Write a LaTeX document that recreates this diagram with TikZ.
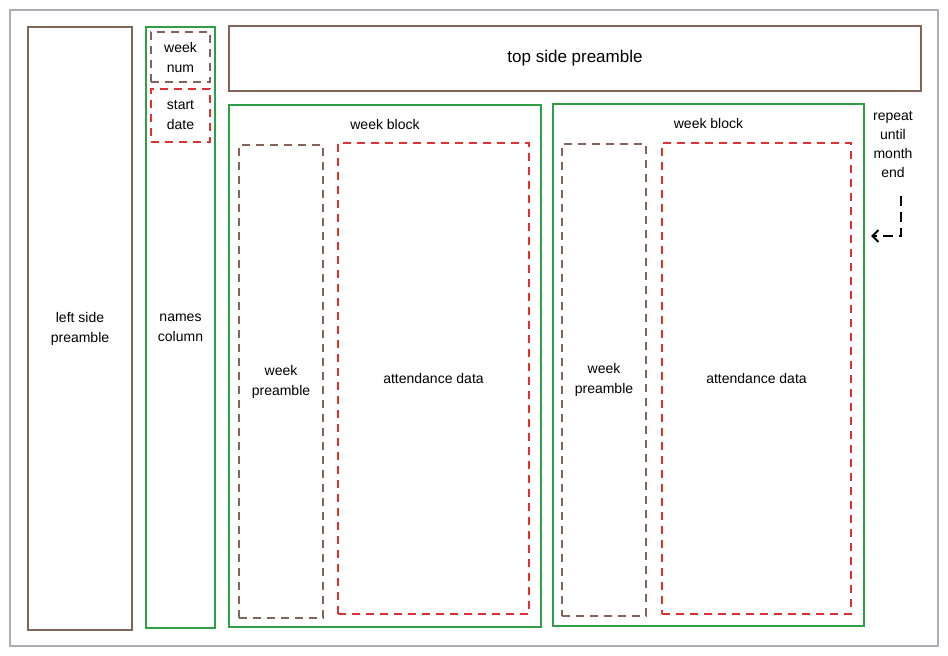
\documentclass[tikz,border=0pt]{standalone}
\usepackage{fontspec}
\setmainfont{Liberation Sans}
\usetikzlibrary{arrows.meta,positioning}

\definecolor{sketchbrown}{HTML}{846358}
\definecolor{sketchgreen}{HTML}{2F9E44}
\definecolor{sketchred}{HTML}{E03131}
\definecolor{framegray}{HTML}{A9AEB5}

\tikzset{solidbox/.style={draw,line width=2.4pt,inner sep=0pt,align=center,font=\fontsize{14}{20}\selectfont},
         dashbox/.style={solidbox,dash pattern=on 8pt off 6pt},
         brownbox/.style={solidbox,sketchbrown},
         greenbox/.style={solidbox,sketchgreen},
         browndash/.style={dashbox,sketchbrown},
         reddash/.style={dashbox,sketchred},
         lbl/.style={font=\fontsize{14}{19}\selectfont,align=center,text=black}}

\begin{document}
\begin{tikzpicture}[x=1pt,y=-1pt]
                  \useasboundingbox (0,0) rectangle (948,656);
                  \draw[framegray,line width=1.5pt] (10,10) rectangle (938,646);
                  \node[brownbox,minimum width=104pt,minimum height=603pt,text=black] (lsp) at (80,328.5) {left side\\preamble};
                  \node[greenbox,minimum width=69pt,minimum height=601pt,text=black] (names) at (180.5,327.5) {names\\column};
                  \node[browndash,minimum width=59pt,minimum height=50pt,text=black] (wknum) at (180.5,57) {week\\num};
                  \node[reddash,minimum width=59pt,minimum height=53pt,text=black] (stdate) at (180.5,115.5) {start\\date};
                  \node[brownbox,minimum width=692pt,minimum height=65pt,text=black,font=\fontsize{17}{20}\selectfont] (tsp) at (575,58.5) {top side preamble};
                  % week blocks
                  \node[greenbox,minimum width=312pt,minimum height=522pt] (wb1) at (385,366) {};
                  \node[lbl,below=12pt of wb1.north] (wb1lbl) {week block};
                  \node[browndash,minimum width=84pt,minimum height=473pt,text=black] (wp1) at (281,381.5) {week\\preamble};
                  \node[reddash,minimum width=191pt,minimum height=471pt,text=black] (ad1) at (433.5,378.5) {attendance data};
                  \node[greenbox,minimum width=311pt,minimum height=522pt] (wb2) at (708.5,365) {};
                  \node[lbl,below=12pt of wb2.north] (wb2lbl) {week block};
                  \node[browndash,minimum width=84pt,minimum height=472pt,text=black] (wp2) at (604,380) {week\\preamble};
                  \node[reddash,minimum width=189pt,minimum height=471pt,text=black] (ad2) at (756.5,378.5) {attendance data};
                  % repeat note
                  \node[lbl] (rpt) at (893,145) {repeat\\until\\month\\end};
                  \coordinate (rptstart) at (901,196);
                  \coordinate (rptend) at (871,236);
                  \draw[-{Straight Barb[length=6pt,width=12pt]},line width=2pt,dash pattern=on 10pt off 6pt] (rptstart) |- (rptend);
              \end{tikzpicture}
\end{document}
